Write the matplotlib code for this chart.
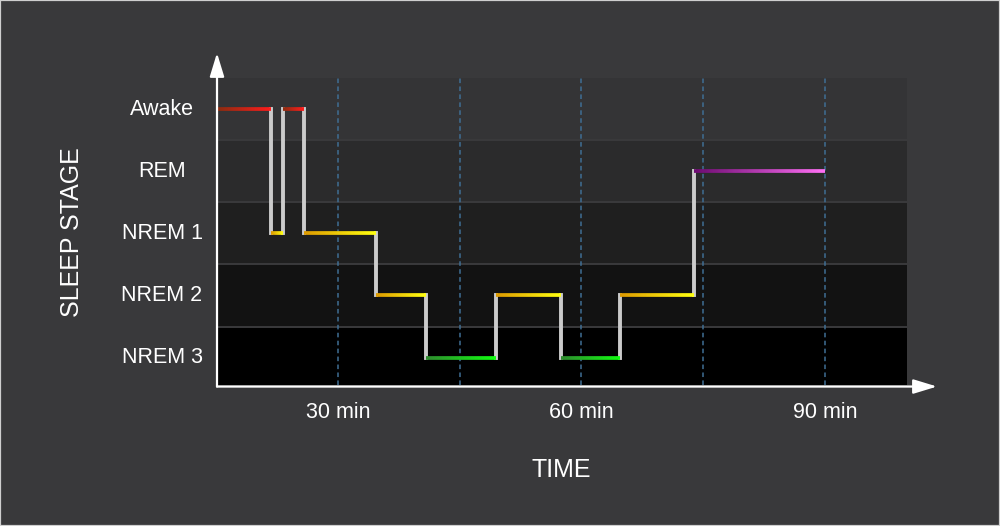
import numpy as np
import matplotlib
matplotlib.use("Agg")
import matplotlib.pyplot as plt
from matplotlib.collections import LineCollection
from matplotlib.colors import LinearSegmentedColormap
from matplotlib.patches import Rectangle

plt.rcParams['font.family'] = ['Liberation Sans', 'DejaVu Sans']

# Sleep stages, bottom to top
stages = ["NREM 3", "NREM 2", "NREM 1", "REM", "Awake"]

# Hypnogram: minute at which each stage begins, and the stage entered
change_minutes = [15.1, 21.8, 23.2, 25.8, 34.7, 40.8, 49.5, 57.5, 64.8, 73.8]
stage_sequence = ["Awake", "NREM 1", "Awake", "NREM 1", "NREM 2",
                  "NREM 3", "NREM 2", "NREM 3", "NREM 2", "REM"]
end_minute = 90.0

tick_minutes = [30, 60, 90]
tick_labels = ["30 min", "60 min", "90 min"]
guide_minutes = [30, 45, 60, 75, 90]

# Styling
BG = "#39393b"
band_colors = {"NREM 3": "#000000", "NREM 2": "#121212", "NREM 1": "#1f1f1f",
               "REM": "#2b2b2c", "Awake": "#343436"}
stage_gradients = {
    "Awake": ("#8a2c10", "#ff1c1c"),
    "NREM 1": ("#dd9a00", "#ffff10"),
    "NREM 2": ("#dd9a00", "#ffff10"),
    "NREM 3": ("#2f8a2f", "#10ff10"),
    "REM": ("#6c0a70", "#ff70f5"),
}

fig = plt.figure(figsize=(10, 5.26), dpi=100, facecolor=BG)
ax = fig.add_axes([0.217, 1 - 385 / 526, 0.690, 308 / 526])
ax.set_facecolor(BG)
ax.set_xlim(15.1, 100.1)
ax.set_ylim(-0.442, 4.519)
for s in ax.spines.values():
    s.set_visible(False)
ax.set_xticks([])
ax.set_yticks([])

# Horizontal stage bands
level = {name: i for i, name in enumerate(stages)}
for name, i in level.items():
    ax.axhspan(i - 0.5, i + 0.5, color=band_colors[name], lw=0, zorder=0)
for i in range(len(stages) - 1):
    ax.axhline(i + 0.5, color="#3a3a3c", lw=1.4, zorder=0.5)

# Dashed time guides
for m in guide_minutes:
    ax.axvline(m, color="#3f6e94", lw=1.1, ls=(0, (3, 2.2)), zorder=1)

# Step path: vertical transitions
levels_seq = [level[s] for s in stage_sequence]
starts = change_minutes
ends = change_minutes[1:] + [end_minute]
for k in range(len(levels_seq) - 1):
    ax.plot([ends[k], ends[k]], [levels_seq[k], levels_seq[k + 1]],
            color="#cbcbcb", lw=2.8, solid_capstyle="projecting", zorder=2)

# Step path: gradient horizontal segments
for x0, x1, lv, name in zip(starts, ends, levels_seq, stage_sequence):
    cmap = LinearSegmentedColormap.from_list(name, stage_gradients[name])
    xs = np.linspace(x0, x1, 120)
    pts = np.column_stack([xs, np.full_like(xs, lv)])
    segs = np.stack([pts[:-1], pts[1:]], axis=1)
    lc = LineCollection(segs, colors=cmap(np.linspace(0, 1, len(segs))),
                        linewidths=2.7, capstyle="butt", zorder=3)
    ax.add_collection(lc)

# Axis arrows
arrow_kw = dict(arrowstyle="-|>,head_length=0.72,head_width=0.22",
                mutation_scale=20, color="white", lw=1.6, shrinkA=0, shrinkB=0)
ax.annotate("", xy=(0, 1.078), xytext=(0, -0.005), xycoords="axes fraction",
            arrowprops=arrow_kw, annotation_clip=False)
ax.annotate("", xy=(720 / 690, -0.005), xytext=(0, -0.005),
            xycoords="axes fraction", arrowprops=arrow_kw, annotation_clip=False)

# Stage labels
for name, i in level.items():
    ax.text(-55 / 690, i, name, transform=ax.get_yaxis_transform(),
            ha="center", va="center", color="white", fontsize=15.5)

# Time labels
for m, lab in zip(tick_minutes, tick_labels):
    ax.text(m, -27 / 308, lab, transform=ax.get_xaxis_transform(),
            ha="center", va="center", color="white", fontsize=15.5)

fig.text(0.561, 1 - 470 / 526, "TIME", ha="center", va="center",
         color="white", fontsize=18)
fig.text(0.072, 1 - 232 / 526, "SLEEP STAGE", ha="center", va="center",
         rotation=90, color="white", fontsize=18)

# Outer frame
fig.add_artist(Rectangle((0, 0), 1, 1, transform=fig.transFigure, fill=False,
                         edgecolor="#cfcfcf", lw=1.6))

fig.savefig("out.png", dpi=100, facecolor=BG)
